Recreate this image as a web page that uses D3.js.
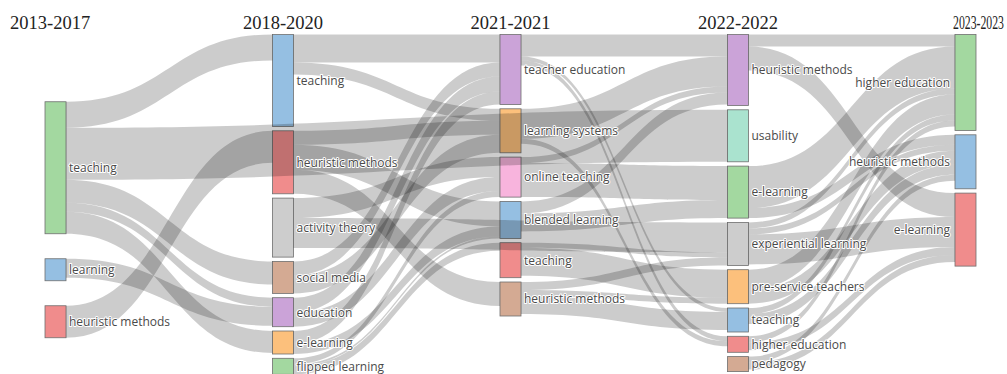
<!DOCTYPE html>
<html><head><meta charset="utf-8">
<script src="https://cdn.jsdelivr.net/npm/d3@7"></script>
<style>
body{margin:0;background:#fff;}
text.lbl{font-family:"Open Sans",sans-serif;font-size:12px;fill:#4a4a4a;paint-order:stroke;stroke:#fff;stroke-width:2px;stroke-linejoin:round;}
text.ttl{font-family:"Liberation Serif","Times New Roman",serif;font-size:18.5px;fill:#222;}
</style></head><body>
<svg id="chart" width="1007" height="374"></svg>
<script>
// ---------- data ----------
const periods = ["2013-2017","2018-2020","2021-2021","2022-2022","2023-2023"];

const themes2013 = ["teaching","learning","heuristic methods"];
const weights2013 = [13.2, 2.2, 3.2];

const themes2018 = ["teaching","heuristic methods","activity theory","social media","education","e-learning","flipped learning"];
const weights2018 = [9.2, 6.3, 5.9, 3.2, 2.9, 2.3, 1.6];

const themes2021 = ["teacher education","learning systems","online teaching","blended learning","teaching","heuristic methods"];
const weights2021 = [7.0, 4.4, 4.0, 3.7, 3.5, 3.4];

const themes2022 = ["heuristic methods","usability","e-learning","experiential learning","pre-service teachers","teaching","higher education","pedagogy"];
const weights2022 = [7.1, 5.2, 5.2, 4.3, 3.4, 2.4, 1.6, 1.5];

const themes2023 = ["higher education","heuristic methods","e-learning"];
const weights2023 = [9.6, 5.4, 7.3];

// flows: [source period index, source theme, target period index, target theme, value]
const flowsFrom2013 = [
  [0,"teaching",1,"teaching",2.6],
  [0,"teaching",3,"usability",5.2],
  [0,"teaching",1,"social media",2.3],
  [0,"teaching",1,"education",0.9],
  [0,"teaching",1,"e-learning",2.2],
  [0,"learning",1,"education",1.9],
  [0,"heuristic methods",1,"heuristic methods",3.2]
];
const flowsFrom2018 = [
  [1,"teaching",2,"teacher education",2.8],
  [1,"teaching",2,"learning systems",1.2],
  [1,"heuristic methods",2,"learning systems",1.4],
  [1,"heuristic methods",2,"blended learning",2.5],
  [1,"heuristic methods",2,"heuristic methods",2.4],
  [1,"activity theory",2,"online teaching",2.0],
  [1,"activity theory",3,"experiential learning",3.0],
  [1,"social media",2,"teacher education",1.4],
  [1,"social media",2,"learning systems",1.8],
  [1,"education",2,"teacher education",1.5],
  [1,"education",2,"online teaching",1.4],
  [1,"e-learning",2,"teacher education",1.3],
  [1,"e-learning",2,"blended learning",1.0],
  [1,"flipped learning",2,"online teaching",0.6],
  [1,"flipped learning",2,"blended learning",0.2],
  [1,"flipped learning",2,"teaching",0.8]
];
const flowsFrom2021 = [
  [2,"teacher education",3,"heuristic methods",2.2],
  [2,"teacher education",3,"teaching",0.4],
  [2,"teacher education",3,"higher education",0.5],
  [2,"learning systems",3,"heuristic methods",3.0],
  [2,"learning systems",3,"higher education",0.5],
  [2,"online teaching",3,"heuristic methods",0.6],
  [2,"online teaching",3,"e-learning",3.4],
  [2,"blended learning",3,"heuristic methods",1.2],
  [2,"blended learning",3,"e-learning",1.8],
  [2,"teaching",3,"experiential learning",0.5],
  [2,"teaching",3,"pre-service teachers",2.8],
  [2,"heuristic methods",3,"experiential learning",0.8],
  [2,"heuristic methods",3,"pre-service teachers",0.6],
  [2,"heuristic methods",3,"teaching",1.8]
];
const flowsFrom2022 = [
  [3,"heuristic methods",4,"higher education",1.2],
  [3,"heuristic methods",4,"e-learning",2.4],
  [3,"e-learning",4,"higher education",4.2],
  [3,"e-learning",4,"heuristic methods",1.0],
  [3,"experiential learning",4,"higher education",0.6],
  [3,"experiential learning",4,"heuristic methods",0.6],
  [3,"experiential learning",4,"e-learning",3.0],
  [3,"pre-service teachers",4,"higher education",2.0],
  [3,"pre-service teachers",4,"heuristic methods",1.4],
  [3,"teaching",4,"higher education",0.6],
  [3,"teaching",4,"heuristic methods",1.0],
  [3,"higher education",4,"higher education",0.6],
  [3,"higher education",4,"e-learning",0.8],
  [3,"pedagogy",4,"heuristic methods",0.6],
  [3,"pedagogy",4,"e-learning",0.7]
];

// ---------- styles ----------
const pal = {green:"#a3d8a0", blue:"#95bfe2", red:"#f08c8c", purple:"#cba3d8", brown:"#d4aa93",
             orange:"#fcc07c", pink:"#f8b4dd", grey:"#cdcdcd", mint:"#aae3cf"};
const themeColors = [
  ["green","blue","red"],
  ["blue","red","grey","brown","purple","orange","green"],
  ["purple","orange","pink","blue","red","brown"],
  ["purple","mint","green","grey","orange","blue","red","brown"],
  ["green","blue","red"]
];

// ---------- layout ----------
const W = 1007, H = 374;
const nodeWidth = 21, pad = 4.3, topY = 34.5, firstColPad = 25, extentBottom = 405;
const themeLists = [themes2013, themes2018, themes2021, themes2022, themes2023];
const weightLists = [weights2013, weights2018, weights2021, weights2022, weights2023];
const flows = [...flowsFrom2013, ...flowsFrom2018, ...flowsFrom2021, ...flowsFrom2022];

const xScale = d3.scaleLinear().domain([0, periods.length - 1]).range([45, 955]);
const ky = d3.scaleLinear().domain([0, 1]).range([0, 10]);

const nodes = [];
const byId = new Map();
themeLists.forEach((names, c) => {
  const vals = weightLists[c];
  const p = c === 0 ? firstColPad : pad;
  const total = d3.sum(vals, ky) + p * (names.length - 1);
  let y = c === 0 ? (topY + extentBottom) / 2 - total / 2 : topY;
  names.forEach((n, i) => {
    const node = {id: c + ":" + n, name: n, col: c, value: vals[i],
      x0: xScale(c), x1: xScale(c) + nodeWidth, y0: y, y1: y + ky(vals[i]),
      color: pal[themeColors[c][i]], out: [], inn: []};
    y = node.y1 + p;
    nodes.push(node); byId.set(node.id, node);
  });
});
const links = flows.map(f => {
  const l = {source: byId.get(f[0] + ":" + f[1]), target: byId.get(f[2] + ":" + f[3]), value: f[4]};
  l.source.out.push(l); l.target.inn.push(l);
  return l;
});
nodes.forEach(n => {
  n.out.sort((a, b) => a.target.y0 - b.target.y0 || a.target.col - b.target.col);
  n.inn.sort((a, b) => a.source.y0 - b.source.y0 || a.source.col - b.source.col);
  let y = n.y0;
  n.out.forEach(l => { l.sy = y; y += ky(l.value); });
  y = n.y0;
  n.inn.forEach(l => { l.ty = y; y += ky(l.value); });
});

function linkPath(l) {
  const w = ky(l.value);
  const x0 = l.source.x1, x1 = l.target.x0;
  const xi = d3.interpolateNumber(x0, x1);
  const xa = xi(0.5), xb = xi(0.5);
  return `M${x0},${l.sy}C${xa},${l.sy} ${xb},${l.ty} ${x1},${l.ty}` +
         `L${x1},${l.ty + w}C${xb},${l.ty + w} ${xa},${l.sy + w} ${x0},${l.sy + w}Z`;
}

const svg = d3.select("#chart");

svg.append("g").selectAll("rect").data(nodes).join("rect")
  .attr("x", d => d.x0).attr("y", d => d.y0)
  .attr("width", d => d.x1 - d.x0).attr("height", d => d.y1 - d.y0)
  .attr("fill", d => d.color).attr("stroke", "#6f6f6f").attr("stroke-width", 0.8);

svg.append("g").selectAll("path").data(links).join("path")
  .attr("d", linkPath).attr("fill", "rgba(0,0,0,0.2)");

svg.append("g").selectAll("text").data(nodes).join("text")
  .attr("class", "lbl")
  .attr("x", d => d.col === periods.length - 1 ? d.x0 - 5 : d.x1 + 3)
  .attr("y", d => (d.y0 + d.y1) / 2)
  .attr("dy", "0.36em")
  .attr("text-anchor", d => d.col === periods.length - 1 ? "end" : "start")
  .text(d => d.name);

svg.append("g").selectAll("text").data(periods).join("text")
  .attr("class", "ttl")
  .attr("x", (d, i) => i === 0 ? 10 : i === periods.length - 1 ? 1004 : xScale(i) + nodeWidth / 2)
  .attr("y", 29)
  .attr("text-anchor", (d, i) => i === 0 ? "start" : i === periods.length - 1 ? "end" : "middle")
  .each(function(d, i) { if (i === periods.length - 1) d3.select(this).attr("textLength", 51).attr("lengthAdjust", "spacingAndGlyphs"); })
  .text(d => d);
</script>
</body></html>
